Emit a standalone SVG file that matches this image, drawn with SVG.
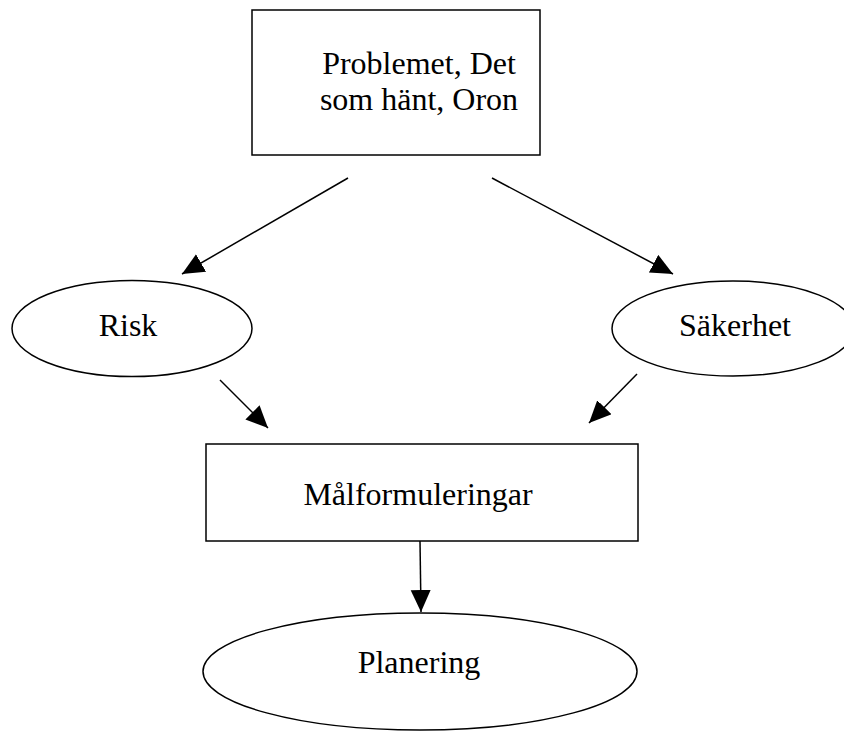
<svg xmlns="http://www.w3.org/2000/svg" width="844" height="731" viewBox="0 0 844 731">
<style>
.shape{fill:#fff;stroke:#000;stroke-width:1.5}
.lbl{font-family:"Liberation Serif","Times New Roman",serif;font-size:32px;fill:#000;text-anchor:middle}
.edge{stroke:#000;stroke-width:1.5;fill:none;marker-end:url(#ah)}
</style>
<defs>
<marker id="ah" markerUnits="userSpaceOnUse" markerWidth="24" markerHeight="22" refX="22" refY="10" orient="auto">
<path d="M0,0 L22,10 L0,20 Z" fill="#000"/>
</marker>
</defs>
<rect width="844" height="731" fill="#fff"/>
<g id="problem">
<rect class="shape" x="252" y="10" width="288" height="145"/>
<text class="lbl" x="419" y="74">Problemet, Det</text>
<text class="lbl" x="419" y="110">som hänt, Oron</text>
</g>
<g id="risk">
<ellipse class="shape" cx="132" cy="328.5" rx="120" ry="48"/>
<text class="lbl" x="128" y="336">Risk</text>
</g>
<g id="sakerhet">
<ellipse class="shape" cx="733" cy="328.5" rx="121" ry="47.5"/>
<text class="lbl" x="735" y="336">Säkerhet</text>
</g>
<g id="mal">
<rect class="shape" x="206" y="444" width="432" height="97"/>
<text class="lbl" x="418" y="505">Målformuleringar</text>
</g>
<g id="planering">
<ellipse class="shape" cx="420" cy="671.5" rx="217" ry="58.5"/>
<text class="lbl" x="419" y="673">Planering</text>
</g>
<g id="connectors">
<line class="edge" x1="348" y1="178" x2="182" y2="274"/>
<line class="edge" x1="492" y1="178" x2="673" y2="274"/>
<line class="edge" x1="220" y1="380" x2="268" y2="428"/>
<line class="edge" x1="637" y1="374" x2="589" y2="423"/>
<line class="edge" x1="420" y1="541" x2="421" y2="612"/>
</g>
</svg>
